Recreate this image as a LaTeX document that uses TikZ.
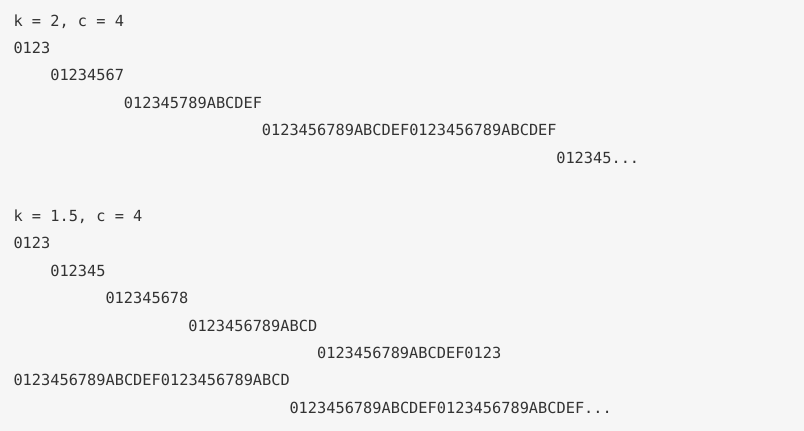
\documentclass[tikz,border=0pt]{standalone}
\usepackage{fontspec}
\setmonofont{DejaVu Sans Mono}
\usepackage{tikz}
\definecolor{pagebg}{HTML}{F6F6F6}
\definecolor{codetext}{HTML}{333333}
\tikzset{codeline/.style={anchor=base west, inner sep=0pt, text=codetext,
  font=\fontsize{15.3}{18}\selectfont\ttfamily}}

\begin{document}
\begin{tikzpicture}[x=9.2pt,y=-27.4pt]

\fill[pagebg] (0pt,0pt) rectangle (804pt,-431pt);
\useasboundingbox (0pt,0pt) rectangle (804pt,-431pt);

%k = 2
\begin{scope}[shift={(13.3pt,-26pt)}]
\node[codeline] (kahead) at (0,0) {k = 2, c = 4};
\node[codeline] (karow1) at (0,1) {0123};
\node[codeline] (karow2) at (4,2) {01234567};
\node[codeline] (karow3) at (12,3) {012345789ABCDEF};
\node[codeline] (karow4) at (27,4) {0123456789ABCDEF0123456789ABCDEF};
\node[codeline] (karow5) at (59,5) {012345...};
\end{scope}

%k = 1.5
\begin{scope}[shift={(13.3pt,-221.5pt)}]
\node[codeline] (kbhead) at (0,0) {k = 1.5, c = 4};
\node[codeline] (kbrow1) at (0,1) {0123};
\node[codeline] (kbrow2) at (4,2) {012345};
\node[codeline] (kbrow3) at (10,3) {012345678};
\node[codeline] (kbrow4) at (19,4) {0123456789ABCD};
\node[codeline] (kbrow5) at (33,5) {0123456789ABCDEF0123};
\node[codeline] (kbrow6) at (0,6) {0123456789ABCDEF0123456789ABCD};
\node[codeline] (kbrow7) at (30,7) {0123456789ABCDEF0123456789ABCDEF...};
\end{scope}

\end{tikzpicture}
\end{document}
